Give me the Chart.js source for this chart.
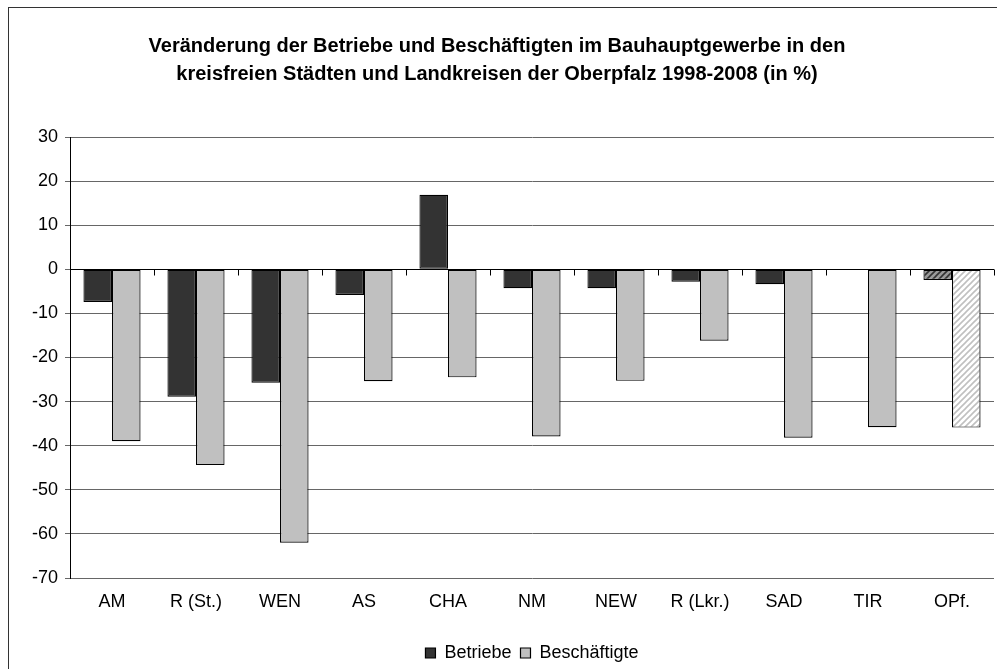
<!DOCTYPE html>
<html>
<head>
<meta charset="utf-8">
<script src="https://cdn.jsdelivr.net/npm/chart.js@4.4.1/dist/chart.umd.min.js"></script>
<style>
  html, body { margin: 0; padding: 0; background: #fff; }
  #wrap { position: relative; width: 997px; height: 669px; }
</style>
</head>
<body>
<div id="wrap"><canvas id="chart" width="997" height="669"></canvas></div>
<script>
// Regions (Landkreise / kreisfreie Städte)
const regions = ["AM", "R (St.)", "WEN", "AS", "CHA", "NM", "NEW", "R (Lkr.)", "SAD", "TIR", "OPf."];
// change in % 1998-2008
const betriebe = [-7.4, -28.9, -25.7, -5.8, 16.9, -4.3, -4.3, -2.8, -3.4, 0, -2.4];
const beschaeftigte = [-39.0, -44.4, -62.0, -25.4, -24.5, -37.9, -25.3, -16.2, -38.2, -35.8, -35.9];
const yTicks = [30, 20, 10, 0, -10, -20, -30, -40, -50, -60, -70];

const darkGrey = "#333333";
const lightGrey = "#c0c0c0";
const fontFamily = "'Liberation Sans', Arial, sans-serif";

// hatched fill for the Oberpfalz total
function makeHatch(bg, stripe) {
    const c = document.createElement("canvas");
    c.width = 6; c.height = 6;
    const g = c.getContext("2d");
    g.fillStyle = bg;
    g.fillRect(0, 0, 6, 6);
    g.strokeStyle = stripe;
    g.lineWidth = 1.6;
    g.beginPath();
    g.moveTo(-1, 7); g.lineTo(7, -1);
    g.moveTo(-1, 1); g.lineTo(1, -1);
    g.moveTo(5, 7); g.lineTo(7, 5);
    g.stroke();
    return g.createPattern(c, "repeat");
}
const hatchDark = makeHatch("#9a9a9a", darkGrey);
const hatchLight = makeHatch("#ffffff", lightGrey);
const lastIdx = regions.length - 1;

// zero line with tick marks between the categories + outer frame
const zeroAxis = {
    id: "zeroAxis",
    afterLayout(chart) {
        // legend sits centred under the plot area, not the canvas, and a bit lower
        const lg = chart.legend;
        const shift = (chart.chartArea.left + chart.chartArea.right) - (lg.left + lg.right);
        lg.left += shift;
        lg.top += 3;
        lg.bottom += 3;
    },
    afterDatasetsDraw(chart) {
        const ctx = chart.ctx;
        const x = chart.scales.x, y = chart.scales.y;
        const y0 = Math.round(y.getPixelForValue(0)) + 0.5;
        ctx.save();
        ctx.strokeStyle = "#000";
        ctx.lineWidth = 1;
        ctx.beginPath();
        ctx.moveTo(x.left, y0);
        ctx.lineTo(x.right, y0);
        for (let i = 1; i <= regions.length; i++) {
            let bx = i < regions.length
                ? (x.getPixelForValue(i - 1) + x.getPixelForValue(i)) / 2
                : x.right - 0.5;
            bx = Math.round(bx) + 0.5;
            ctx.moveTo(bx, y0);
            ctx.lineTo(bx, y0 + 6);
        }
        ctx.stroke();
        ctx.restore();
    },
    beforeDraw(chart) {
        const ctx = chart.ctx;
        ctx.save();
        ctx.fillStyle = "#fff";
        ctx.fillRect(0, 0, chart.width, chart.height);
        ctx.strokeStyle = "#333";
        ctx.lineWidth = 1;
        ctx.strokeRect(8.5, 7.5, chart.width + 10, chart.height + 10);
        ctx.restore();
    }
};

new Chart(document.getElementById("chart"), {
    type: "bar",
    data: {
        labels: regions,
        datasets: [{
            label: "Betriebe",
            data: betriebe,
            backgroundColor: ctx => ctx.dataIndex === lastIdx ? hatchDark : darkGrey,
            borderColor: "#000",
            borderWidth: 1.2,
            borderSkipped: false,
            categoryPercentage: 0.68,
            barPercentage: 1
        }, {
            label: "Beschäftigte",
            data: beschaeftigte,
            backgroundColor: ctx => ctx.dataIndex === lastIdx ? hatchLight : lightGrey,
            borderColor: "#000",
            borderWidth: 1.2,
            borderSkipped: false,
            categoryPercentage: 0.68,
            barPercentage: 1
        }]
    },
    options: {
        responsive: false,
        animation: false,
        layout: { padding: { left: 0, right: 3, top: 0, bottom: 0 } },
        plugins: {
            title: {
                display: true,
                text: ["Veränderung der Betriebe und Beschäftigten im Bauhauptgewerbe in den",
                       "kreisfreien Städten und Landkreisen der Oberpfalz 1998-2008 (in %)"],
                color: "#000",
                font: { family: fontFamily, size: 20, weight: "bold", lineHeight: 1.4 },
                padding: { top: 32, bottom: 49 }
            },
            legend: {
                position: "bottom",
                labels: {
                    color: "#000",
                    font: { family: fontFamily, size: 18 },
                    boxWidth: 10,
                    boxHeight: 10,
                    padding: 9
                }
            },
            tooltip: { enabled: false }
        },
        scales: {
            x: {
                grid: { display: false, drawTicks: false },
                border: { display: false },
                afterFit: s => { s.height = 54; },
                ticks: { color: "#000", font: { family: fontFamily, size: 18 }, padding: 13 }
            },
            y: {
                min: -70,
                max: 30,
                afterBuildTicks: s => { s.ticks = yTicks.map(v => ({ value: v })); },
                afterFit: s => { s.width = 70; },
                grid: { color: "#666", lineWidth: 1, tickLength: 5 },
                border: { color: "#000", width: 1 },
                ticks: { color: "#000", font: { family: fontFamily, size: 18 }, padding: 7 }
            }
        }
    },
    plugins: [zeroAxis]
});
</script>
</body>
</html>
